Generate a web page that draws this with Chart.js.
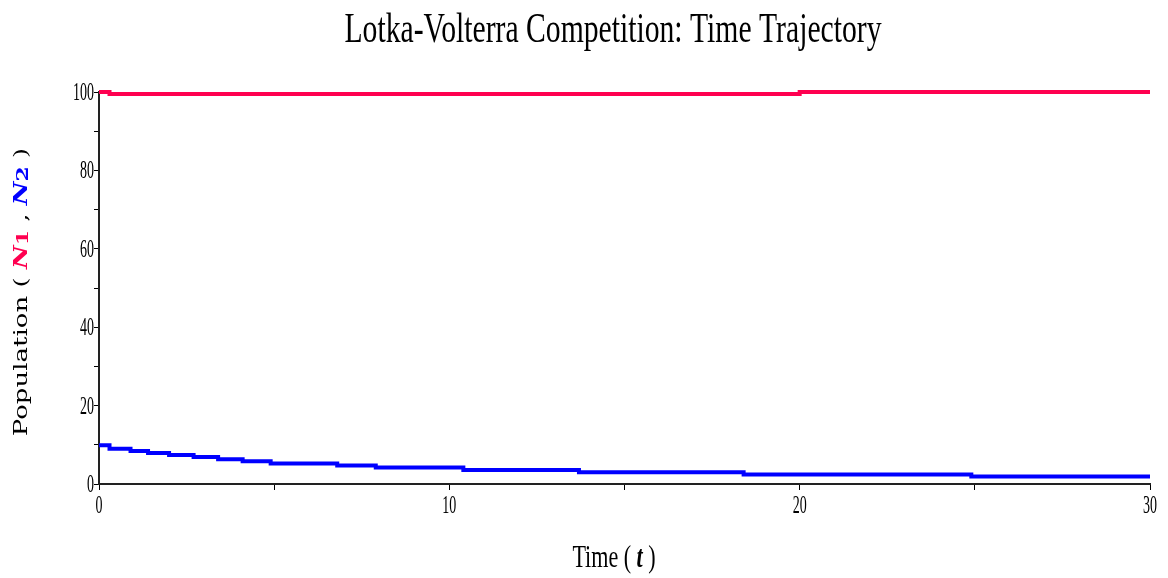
<!DOCTYPE html>
<html>
<head>
<meta charset="utf-8">
<script src="https://cdn.jsdelivr.net/npm/chart.js@4"></script>
<style>
  html, body { margin: 0; padding: 0; background: #fff; }
  canvas { display: block; }
</style>
</head>
<body>
<canvas id="lvChart" width="1168" height="578"></canvas>
<script>
// Lotka-Volterra competition, time trajectory of both species
const T_N1 = [0, 0.3, 20.0, 30];
const N1 = [100, 99.5, 100, 100];

const T_N2 = [0, 0.3, 0.9, 1.4, 2.0, 2.7, 3.4, 4.1, 4.9, 6.8, 7.9, 10.4, 13.7, 18.4, 24.9, 30];
const N2 = [9.9, 9.0, 8.4, 7.9, 7.4, 6.9, 6.3, 5.8, 5.2, 4.7, 4.2, 3.6, 3.0, 2.4, 1.9, 1.9];

const X_LABELS = [0, 10, 20, 30];
const Y_LABELS = [0, 20, 40, 60, 80, 100];

const RED = 'rgb(255,0,80)';
const BLUE = 'rgb(0,0,255)';
const SX = 0.69;      // horizontal squeeze for titles
const SX_TICK = 0.56; // tick digits are narrower still

const pts = (xs, ys) => xs.map((x, i) => ({ x: x, y: ys[i] }));

// draw a run of [text, font, colour, dy] pieces starting at x (unscaled units)
function drawRun(ctx, pieces, x, y) {
    pieces.forEach(p => {
        ctx.font = p[1];
        ctx.fillStyle = p[2];
        ctx.fillText(p[0], x, y + (p[3] || 0));
        x += ctx.measureText(p[0]).width;
    });
}
function runWidth(ctx, pieces) {
    return pieces.reduce((w, p) => { ctx.font = p[1]; return w + ctx.measureText(p[0]).width; }, 0);
}

const textPlugin = {
    id: 'squeezedText',
    afterDraw(chart) {
        const ctx = chart.ctx;
        const xs = chart.scales.x, ys = chart.scales.y;
        ctx.save();
        ctx.textBaseline = 'alphabetic';

        // title
        const title = [['Lotka-Volterra Competition: Time Trajectory', '43px "Liberation Serif"', '#000']];
        ctx.save();
        ctx.translate(613, 42);
        ctx.scale(SX, 1);
        drawRun(ctx, title, -runWidth(ctx, title) / 2, 0);
        ctx.restore();

        // tick labels
        const tickFont = '25px "Liberation Serif"';
        X_LABELS.forEach(v => {
            const p = [[String(v), tickFont, '#000']];
            ctx.save();
            ctx.translate(xs.getPixelForValue(v), 513);
            ctx.scale(SX_TICK, 1);
            drawRun(ctx, p, -runWidth(ctx, p) / 2, 0);
            ctx.restore();
        });
        Y_LABELS.forEach(v => {
            const p = [[String(v), tickFont, '#000']];
            ctx.save();
            ctx.translate(94, ys.getPixelForValue(v) + 8);
            ctx.scale(SX_TICK, 1);
            drawRun(ctx, p, -runWidth(ctx, p), 0);
            ctx.restore();
        });

        // x axis title
        const xt = [
            ['Time ( ', '32px "Liberation Serif"', '#000'],
            ['t', 'italic bold 32px "Liberation Serif"', '#000'],
            [' )', '32px "Liberation Serif"', '#000']
        ];
        ctx.save();
        ctx.translate(614, 567);
        ctx.scale(SX, 1);
        drawRun(ctx, xt, -runWidth(ctx, xt) / 2, 0);
        ctx.restore();

        // y axis title, rotated
        const f = '26px "DejaVu Serif"';
        const yt = [
            ['Population ( ', f, '#000'],
            ['N', 'italic bold 26px "DejaVu Serif"', RED],
            ['1', 'bold 22px "DejaVu Serif"', RED, 1],
            [' , ', f, '#000'],
            ['N', 'italic bold 26px "DejaVu Serif"', BLUE],
            ['2', 'bold 22px "DejaVu Serif"', BLUE, 1],
            [' )', f, '#000']
        ];
        ctx.save();
        ctx.translate(27, 292);
        ctx.rotate(-Math.PI / 2);
        ctx.scale(1, 0.72);
        drawRun(ctx, yt, -runWidth(ctx, yt) / 2, 0);
        ctx.restore();

        ctx.restore();
    }
};

new Chart(document.getElementById('lvChart'), {
    type: 'line',
    data: {
        datasets: [
            { label: 'N1', data: pts(T_N1, N1), borderColor: RED, borderWidth: 4 },
            { label: 'N2', data: pts(T_N2, N2), borderColor: BLUE, borderWidth: 4 }
        ]
    },
    options: {
        responsive: false,
        animation: false,
        devicePixelRatio: 1,
        layout: { padding: { top: 92, right: 18, left: 0, bottom: 0 } },
        elements: {
            line: { stepped: 'before', tension: 0, fill: false },
            point: { radius: 0, hoverRadius: 0 }
        },
        datasets: { line: { clip: 6 } },
        plugins: { legend: { display: false }, tooltip: { enabled: false }, title: { display: false } },
        scales: {
            x: {
                type: 'linear', min: 0, max: 30,
                afterFit: s => { s.height = 94; },
                ticks: { display: false, stepSize: 5 },
                grid: { drawOnChartArea: false, drawTicks: true, tickLength: 6, color: '#000', lineWidth: 1 },
                border: { display: true, color: '#222', width: 2 }
            },
            y: {
                type: 'linear', min: 0, max: 100,
                afterFit: s => { s.width = 99; },
                ticks: { display: false, stepSize: 10 },
                grid: { drawOnChartArea: false, drawTicks: true, tickLength: 5, color: '#000', lineWidth: 1 },
                border: { display: true, color: '#222', width: 2 }
            }
        }
    },
    plugins: [textPlugin]
});
</script>
</body>
</html>
